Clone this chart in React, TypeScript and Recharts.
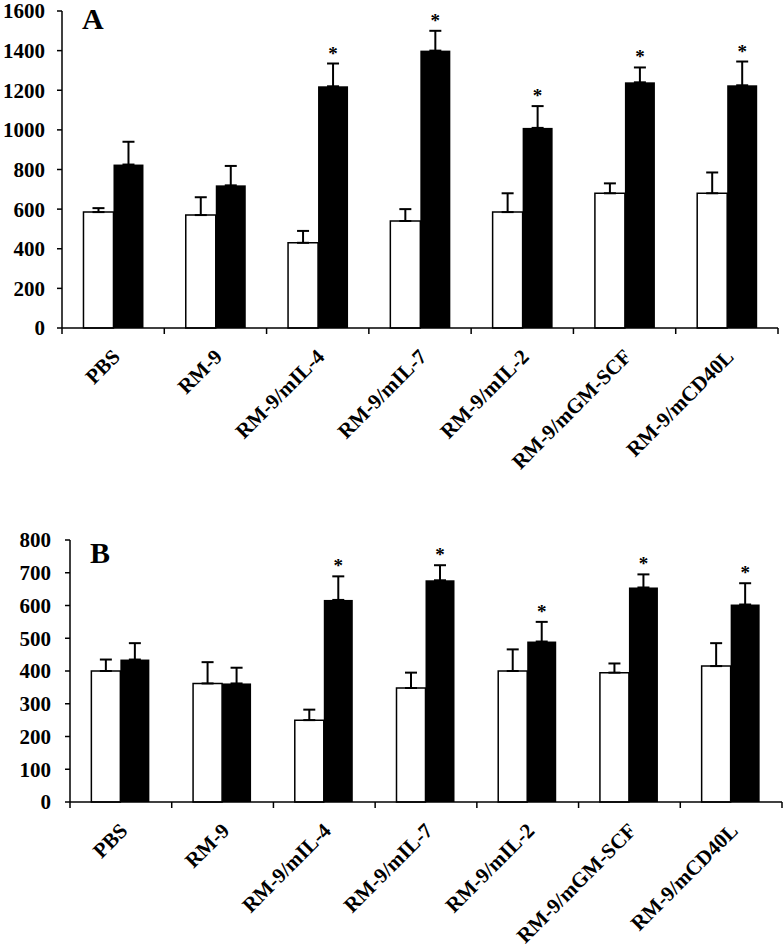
import React from 'react';
import { BarChart, Bar, XAxis, YAxis, ErrorBar } from 'recharts';

// groups along the x axis
const categories = ['PBS', 'RM-9', 'RM-9/mIL-4', 'RM-9/mIL-7', 'RM-9/mIL-2', 'RM-9/mGM-SCF', 'RM-9/mCD40L'];

// panel A
const aWhite = [585, 570, 430, 540, 585, 680, 680];
const aWhiteErr = [20, 90, 60, 60, 95, 50, 105];
const aBlack = [825, 720, 1220, 1400, 1010, 1240, 1225];
const aBlackErr = [115, 98, 115, 100, 110, 75, 120];
const aTicks = [0, 200, 400, 600, 800, 1000, 1200, 1400, 1600];

// panel B
const bWhite = [400, 362, 250, 348, 400, 395, 415];
const bWhiteErr = [35, 65, 32, 47, 66, 28, 70];
const bBlack = [435, 362, 617, 677, 490, 655, 603];
const bBlackErr = [50, 48, 72, 46, 60, 40, 65];
const bTicks = [0, 100, 200, 300, 400, 500, 600, 700, 800];

// asterisk over the black bar
const stars = [false, false, true, true, true, true, true];

const serif = '"Liberation Serif", "Times New Roman", serif';

const buildRows = (white: number[], whiteErr: number[], black: number[], blackErr: number[]) =>
  categories.map((name, i) => ({
    name,
    pos: i + 0.5,
    white: white[i],
    whiteRange: [0, whiteErr[i]],
    black: black[i],
    blackErr: blackErr[i],
    blackRange: [0, blackErr[i]],
    star: stars[i],
  }));

const dataA = buildRows(aWhite, aWhiteErr, aBlack, aBlackErr);
const dataB = buildRows(bWhite, bWhiteErr, bBlack, bBlackErr);

// ticks at group edges (integers) and labels at group centres (halves)
const edgeTicks = categories.flatMap((_, i) => [i, i + 0.5]).concat(categories.length);

const EdgeTick = (props: any) => {
  const { x, y, payload } = props;
  const v = payload.value;
  if (Number.isInteger(v)) {
    return <line x1={x} y1={y} x2={x} y2={y + 6} stroke="#000" strokeWidth={1.5} />;
  }
  const label = categories[Math.floor(v)];
  return (
    <g transform={`translate(${x + 8}, ${y + 30}) rotate(-45)`}>
      <text x={0} y={0} textAnchor="end" fontFamily={serif} fontWeight="bold" fontSize={21} fill="#000">
        {label}
      </text>
    </g>
  );
};

const BlackBar = (props: any) => {
  const { x, y, width, height, payload } = props;
  const scale = payload.black ? height / payload.black : 0;
  const capY = y - payload.blackErr * scale;
  return (
    <g>
      <rect x={x} y={y} width={width} height={height} fill="#000" />
      {payload.star && (
        <text x={x + width / 2} y={capY - 4} textAnchor="middle" fontFamily={serif} fontWeight="bold" fontSize={19} fill="#000">
          *
        </text>
      )}
    </g>
  );
};

interface PanelProps {
  data: any[];
  ticks: number[];
  height: number;
  top: number;
  right: number;
  yWidth: number;
  xHeight: number;
  tickMargin: number;
  letter: string;
  letterY: number;
}

const Panel: React.FC<PanelProps> = ({ data, ticks, height, top, right, yWidth, xHeight, tickMargin, letter, letterY }) => (
  <div style={{ position: 'relative', width: 784, height }}>
    <BarChart
      width={784}
      height={height}
      data={data}
      margin={{ top, right, left: 0, bottom: 0 }}
      barCategoryGap="21%"
      barGap={0}
    >
      <XAxis xAxisId="cat" dataKey="name" hide height={0} />
      <XAxis
        xAxisId="edge"
        type="number"
        dataKey="pos"
        domain={[0, categories.length]}
        ticks={edgeTicks}
        interval={0}
        tick={<EdgeTick />}
        tickLine={false}
        tickSize={0}
        tickMargin={0}
        axisLine={{ stroke: '#000', strokeWidth: 1.5 }}
        height={xHeight}
        allowDataOverflow
      />
      <YAxis
        domain={[0, ticks[ticks.length - 1]]}
        ticks={ticks}
        interval={0}
        width={yWidth}
        axisLine={{ stroke: '#000', strokeWidth: 1.5 }}
        tickLine={{ stroke: '#000', strokeWidth: 1.5 }}
        tickSize={5}
        tickMargin={tickMargin}
        tick={{ fill: '#000', fontFamily: serif, fontWeight: 'bold', fontSize: 21 }}
      />
      <Bar xAxisId="cat" dataKey="white" fill="#fff" stroke="#000" strokeWidth={1.5} isAnimationActive={false}>
        <ErrorBar dataKey="whiteRange" width={6} stroke="#000" strokeWidth={2} />
      </Bar>
      <Bar xAxisId="cat" dataKey="black" fill="#000" shape={<BlackBar />} isAnimationActive={false}>
        <ErrorBar dataKey="blackRange" width={6} stroke="#000" strokeWidth={2} />
      </Bar>
    </BarChart>
    <svg width={140} height={120} style={{ position: 'absolute', left: 0, top: 0, pointerEvents: 'none' }}>
      <text x={yWidth + 20} y={letterY} fontFamily={serif} fontWeight="bold" fontSize={30} fill="#000">
        {letter}
      </text>
    </svg>
  </div>
);

export default function App() {
  return (
    <div style={{ position: 'absolute', left: 0, top: 0, width: 784, height: 950, background: '#fff' }}>
      <Panel data={dataA} ticks={aTicks} height={480} top={11} right={6} yWidth={62} xHeight={152} tickMargin={12} letter="A" letterY={29} />
      <Panel data={dataB} ticks={bTicks} height={470} top={60} right={2} yWidth={70} xHeight={148} tickMargin={14} letter="B" letterY={83} />
    </div>
  );
}
